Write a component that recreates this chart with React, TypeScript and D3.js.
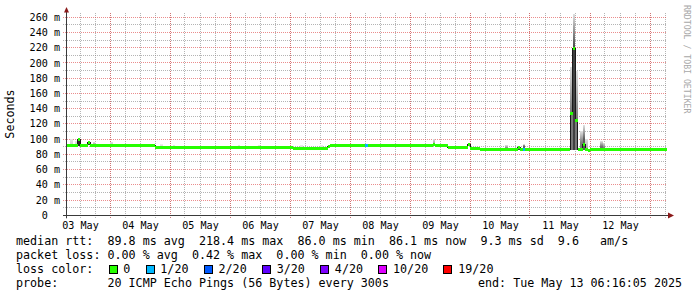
import React from "react";
import * as d3 from "d3";

const W = 697;
const H = 297;

// ---- data ----
const xStartTime = "2025-05-03 06:48";
const xEndTime = "2025-05-13 06:48";

const yTickValues = [0, 20, 40, 60, 80, 100, 120, 140, 160, 180, 200, 220, 240, 260];
const yMinorValues = [10, 30, 50, 70, 90, 110, 130, 150, 170, 190, 210, 230, 250];
const dayLabelDates = [
  "2025-05-03", "2025-05-04", "2025-05-05", "2025-05-06", "2025-05-07",
  "2025-05-08", "2025-05-09", "2025-05-10", "2025-05-11", "2025-05-12",
];

// median rtt (ms) as steps: each value holds from its time to the next time
const segTimes = [
  "2025-05-03 06:00", "2025-05-03 11:00", "2025-05-03 12:00", "2025-05-03 15:00",
  "2025-05-03 16:00", "2025-05-04 18:00", "2025-05-07 01:00", "2025-05-07 15:00",
  "2025-05-07 16:00", "2025-05-08 06:00", "2025-05-08 07:00", "2025-05-09 09:00",
  "2025-05-09 10:00", "2025-05-09 15:00", "2025-05-09 23:00", "2025-05-10 00:00",
  "2025-05-10 04:00", "2025-05-10 19:00", "2025-05-10 20:00", "2025-05-10 21:00",
  "2025-05-10 22:00", "2025-05-11 16:00", "2025-05-11 17:00", "2025-05-11 18:00",
  "2025-05-11 19:00", "2025-05-11 21:00", "2025-05-11 22:00", "2025-05-11 23:00",
  "2025-05-12 00:00",
];
const segMedian = [
  91.5, 99, 91.5, 95,
  91.5, 89.6, 88.3, 89.8,
  91.3, 91.3, 91.3, 93.5,
  91.5, 89.5, 92.8, 87.5,
  86.2, 88.5, 86.2, 86.2,
  86.2, 134, 218.4, 124.5,
  86.2, 93.5, 87, 84.8,
  86.1,
];
// index into lossColors
const segLoss = [
  0, 0, 0, 0,
  0, 0, 0, 0,
  0, 1, 0, 0,
  0, 0, 0, 0,
  0, 0, 0, 1,
  0, 0, 0, 0,
  0, 0, 0, 0,
  0,
];

// smoke (spread of the 20 pings), one hour per column
const smokeTimes = [
  "2025-05-03 08:00", "2025-05-03 10:00", "2025-05-03 11:00", "2025-05-03 15:00",
  "2025-05-03 17:00", "2025-05-04 00:00", "2025-05-04 05:00", "2025-05-04 11:00",
  "2025-05-04 20:00", "2025-05-05 01:00", "2025-05-06 03:00", "2025-05-06 11:00",
  "2025-05-07 04:00", "2025-05-07 12:00", "2025-05-08 20:00", "2025-05-09 09:00",
  "2025-05-10 14:00", "2025-05-10 19:00", "2025-05-10 21:00", "2025-05-11 16:00",
  "2025-05-11 17:00", "2025-05-11 18:00", "2025-05-11 20:00", "2025-05-11 21:00",
  "2025-05-11 22:00", "2025-05-12 04:00", "2025-05-12 05:00", "2025-05-12 17:00",
  "2025-05-13 03:00",
];
const smokeLo = [
  91, 91, 91, 92,
  91, 91, 91, 91,
  89.6, 89.6, 89.6, 89.6,
  88.3, 88.3, 91.3, 91.5,
  86, 86, 86, 86,
  86, 86, 86, 86,
  86, 86, 86, 86,
  86,
];
const smokeMid = [
  92, 92, 99, 95,
  93, 92, 92, 92,
  90, 90, 90, 90,
  89, 89, 92, 93,
  88, 88, 91, 134,
  218, 125, 95, 100,
  88, 90, 89, 87,
  87,
];
const smokeHi = [
  100, 97, 101, 96,
  96, 96, 94, 94,
  93, 92.5, 92.5, 92.5,
  92, 92, 94, 100,
  92, 89, 93, 195,
  264, 190, 110, 118,
  100, 97, 95, 88.5,
  88.5,
];
const smokeShade = [
  205, 205, 40, 50,
  160, 195, 210, 210,
  210, 212, 212, 212,
  215, 215, 210, 150,
  120, 60, 100, 120,
  65, 120, 120, 90,
  170, 110, 130, 210,
  210,
];

const lossLabels = ["0", "1/20", "2/20", "3/20", "4/20", "10/20", "19/20"];
const lossColors = ["#26ff00", "#00b8ff", "#0059ff", "#5e00ff", "#7e00ff", "#dd00ff", "#ff0000"];

const legendRtt = "median rtt:  89.8 ms avg  218.4 ms max  86.0 ms min  86.1 ms now  9.3 ms sd  9.6   am/s";
const legendLoss = "packet loss: 0.00 % avg  0.42 % max  0.00 % min  0.00 % now";
const legendColorTitle = "loss color:";
const legendProbe = "probe:       20 ICMP Echo Pings (56 Bytes) every 300s";
const legendEnd = "end: Tue May 13 06:16:05 2025";
const yTitle = "Seconds";
const watermark = "RRDTOOL / TOBI OETIKER";

// ---- layout ----
const PL = 67;
const PR = 667;
const PT = 13;
const PB = 215.3;
const Y_TOP_VALUE = 265.5;
const MONO = "'DejaVu Sans Mono', monospace";
const AX_FONT = 10.1;
const LEG_FONT = 11.7;
const CHAR = LEG_FONT * 0.602;

const parse = d3.utcParse("%Y-%m-%d %H:%M");
const parseDay = d3.utcParse("%Y-%m-%d");
const fmtDay = d3.utcFormat("%d %b");

const gray = (v: number) => `rgb(${v},${v},${v})`;
const snap = (v: number) => Math.floor(v) + 0.5;

export default function App() {
  const x = d3.scaleUtc().domain([parse(xStartTime)!, parse(xEndTime)!]).range([PL, PR]);
  const y = d3.scaleLinear().domain([0, Y_TOP_VALUE]).range([PB, PT]);

  const clipX = (v: number) => Math.max(PL, Math.min(PR, v));

  const minorTimes = d3.utcHour.every(6)!.range(x.domain()[0], x.domain()[1]);
  const majorTimes = d3.utcDay.range(x.domain()[0], x.domain()[1]);

  const segDates = segTimes.map((s) => parse(s)!);
  const segEnds = segDates.map((d, i) => (i + 1 < segDates.length ? segDates[i + 1] : x.domain()[1]));

  const stepPts: [number, number][] = segDates.map((d, i) => [clipX(x(d)), y(segMedian[i])]);
  stepPts.push([PR, y(segMedian[segMedian.length - 1])]);
  const stepLine = d3.line().curve(d3.curveStepAfter)(stepPts) || "";

  const smokeDates = smokeTimes.map((s) => parse(s)!);

  const swatches: { bx: number; tx: number; label: string; color: string }[] = [];
  let bx = 108.5;
  lossLabels.forEach((lab, i) => {
    const tx = bx + 14.8;
    swatches.push({ bx, tx, label: lab, color: lossColors[i] });
    bx = tx + lab.length * CHAR + 15.2;
  });

  return (
    <svg
      width={W}
      height={H}
      viewBox={`0 0 ${W} ${H}`}
      style={{ position: "absolute", left: 0, top: 0, display: "block", background: "#fff" }}
      fontFamily={MONO}
    >
      <rect x={0} y={0} width={W} height={H} fill="#ffffff" />
      <defs>
        {smokeDates.map((d, i) => (
          <linearGradient
            key={i}
            id={`sg${i}`}
            gradientUnits="userSpaceOnUse"
            x1={0}
            x2={0}
            y1={y(smokeMid[i])}
            y2={y(smokeHi[i])}
          >
            <stop offset="0" stopColor={gray(smokeShade[i])} />
            <stop offset="1" stopColor={gray(Math.min(235, Math.max(smokeShade[i] + 25, 222)))} />
          </linearGradient>
        ))}
      </defs>

      {yMinorValues.map((v) => (
        <line key={`ym${v}`} x1={PL - 4} x2={PR} y1={snap(y(v))} y2={snap(y(v))}
          stroke="rgba(130,130,130,0.6)" strokeDasharray="1,1" />
      ))}
      {minorTimes.map((t) => (
        <line key={`xm${+t}`} x1={snap(x(t))} x2={snap(x(t))} y1={PT} y2={PB + 3}
          stroke="rgba(130,130,130,0.6)" strokeDasharray="1,1" />
      ))}
      {yTickValues.map((v) => (
        <line key={`yM${v}`} x1={PL - 4} x2={PR} y1={snap(y(v))} y2={snap(y(v))}
          stroke="rgba(222,80,80,0.65)" strokeDasharray="1,1" />
      ))}
      {majorTimes.map((t) => (
        <line key={`xM${+t}`} x1={snap(x(t))} x2={snap(x(t))} y1={PT} y2={PB + 3}
          stroke="rgba(222,80,80,0.65)" strokeDasharray="1,1" />
      ))}

      {smokeDates.map((d, i) => {
        const x0 = clipX(x(d));
        const x1 = clipX(x(d3.utcHour.offset(d, 1)));
        return (
          <g key={`s${i}`} shapeRendering="crispEdges">
            <rect x={x0} width={x1 - x0} y={y(smokeHi[i])} height={y(smokeMid[i]) - y(smokeHi[i])} fill={`url(#sg${i})`} />
            <rect x={x0} width={x1 - x0} y={y(smokeMid[i])} height={Math.max(0, y(smokeLo[i]) - y(smokeMid[i]))} fill={gray(smokeShade[i])} />
          </g>
        );
      })}

      <path d={stepLine} fill="none" stroke="#1a1a1a" strokeWidth={1} shapeRendering="crispEdges" />

      {segDates.map((d, i) => {
        const x0 = clipX(x(d));
        const x1 = clipX(x(segEnds[i]));
        const ym = y(segMedian[i]);
        return (
          <rect key={`m${i}`} x={x0} width={Math.max(0, x1 - x0)} y={ym - 1.5} height={3}
            fill={lossColors[segLoss[i]]} shapeRendering="crispEdges" />
        );
      })}

      <line x1={PL - 4} x2={PR + 2} y1={snap(PB)} y2={snap(PB)} stroke="#3a3a3a" />
      <line x1={PL - 0.5} x2={PL - 0.5} y1={PB + 3} y2={PT - 1} stroke="#3a3a3a" />
      <path d={`M${PL - 3},${PT - 0.5} L${PL + 2},${PT - 0.5} L${PL - 0.5},${PT - 6} Z`} fill="#8b1a1a" />
      <path d={`M${PR + 1},${snap(PB) - 3} L${PR + 1},${snap(PB) + 3} L${PR + 7},${snap(PB)} Z`} fill="#8b1a1a" />

      {yTickValues.map((v) => (
        <text key={`yl${v}`} x={v === 0 ? 60 - 2 * AX_FONT * 0.602 : 60} y={y(v) + 3.6}
          textAnchor="end" fontSize={AX_FONT} fill="#000">
          {v === 0 ? "0" : `${v} m`}
        </text>
      ))}

      {dayLabelDates.map((s) => {
        const d = parseDay(s)!;
        const noon = d3.utcHour.offset(d, 12);
        return (
          <text key={s} x={x(noon) + 0.5} y={228.5} textAnchor="middle" fontSize={AX_FONT} fill="#000">
            {fmtDay(d)}
          </text>
        );
      })}

      <text transform="translate(14,114) rotate(-90)" textAnchor="middle" fontSize={LEG_FONT} fill="#000">
        {yTitle}
      </text>

      <text transform="translate(684,5) rotate(90)" fontSize={8.2} fill="#a8a8a8">
        {watermark}
      </text>

      <g fontSize={LEG_FONT} fill="#000" style={{ whiteSpace: "pre" }}>
        <text x={16} y={245} xmlSpace="preserve">{legendRtt}</text>
        <text x={16} y={259} xmlSpace="preserve">{legendLoss}</text>
        <text x={16} y={273} xmlSpace="preserve">{legendColorTitle}</text>
        <text x={16} y={287} xmlSpace="preserve">{legendProbe}</text>
        <text x={478} y={287} xmlSpace="preserve">{legendEnd}</text>
        {swatches.map((s) => (
          <g key={s.label}>
            <rect x={s.bx + 0.5} y={265.5} width={8} height={8} fill={s.color} stroke="#000" strokeWidth={1} shapeRendering="crispEdges" />
            <text x={s.tx} y={273} xmlSpace="preserve">{s.label}</text>
          </g>
        ))}
      </g>
    </svg>
  );
}
